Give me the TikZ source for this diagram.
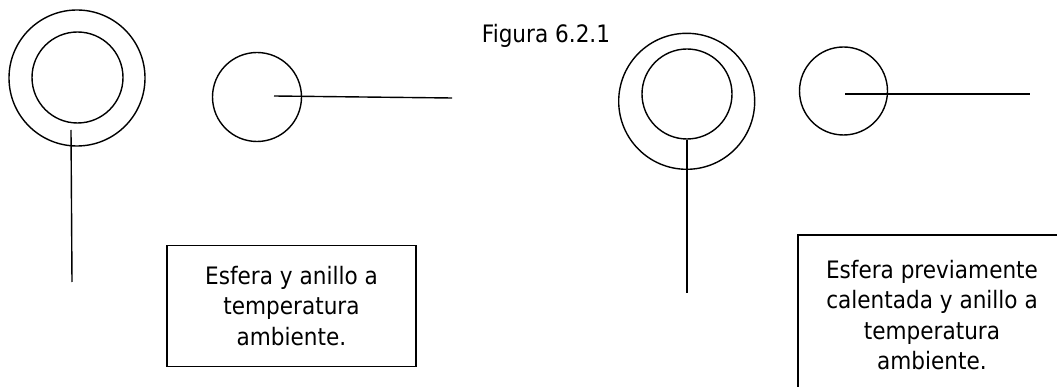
\documentclass[tikz,border=0pt]{standalone}
\usepackage{fontspec}
\setmainfont{DejaVu Sans}[FakeStretch=0.9]
\begin{document}
\begin{tikzpicture}[x=1pt,y=-1pt,
  stroke/.style={line width=1.4pt,black},
  caption/.style={font=\fontsize{24}{30.5}\selectfont,align=center,inner sep=0pt},
  labelbox/.style={caption,draw,line width=1.4pt}]
\useasboundingbox (0,0) rectangle (1057,387);

% title
\node[caption,anchor=base] (title) at (546,43) {Figura 6.2.1};

% left: sphere inside the ring, both at room temperature
\node[stroke,draw,circle,minimum size=136pt,inner sep=0pt] (ringA) at (77,78) {};
\node[stroke,draw,circle,minimum size=91pt,inner sep=0pt] (ballA) at (77.5,77.5) {};
\coordinate (stemAtop) at (71,130);
\coordinate (stemAend) at (72,282);
\draw[stroke] (stemAtop) -- (stemAend);

% loose sphere with its handle
\node[stroke,draw,circle,minimum size=89pt,inner sep=0pt] (ballB) at (257,97) {};
\coordinate (handBstart) at (274,96);
\coordinate (handBend) at (452,98);
\draw[stroke] (handBstart) -- (handBend);

% right: heated sphere resting on the ring
\node[stroke,draw,circle,minimum size=136pt,inner sep=0pt] (ringC) at (686.7,101.3) {};
\node[stroke,draw,circle,minimum size=90pt,inner sep=0pt] (ballC) at (687,94) {};
\coordinate (stemCend) at (687,293);
\draw[stroke] (ballC.south) -- (stemCend);

% second loose sphere with its handle
\node[stroke,draw,circle,minimum size=88pt,inner sep=0pt] (ballD) at (843.5,91) {};
\coordinate (handDstart) at (845,94);
\coordinate (handDend) at (1030,94);
\draw[stroke] (handDstart) -- (handDend);

% captions in boxes (the right one runs past the edge of the page)
\node[labelbox,minimum width=249pt,minimum height=121pt] (boxA) at (291.5,306)
  {Esfera y anillo a\\temperatura\\ambiente.};
\node[labelbox,minimum width=268pt,minimum height=160pt] (boxC) at (932,315)
  {Esfera previamente\\calentada y anillo a\\temperatura\\ambiente.};
\end{tikzpicture}
\end{document}
